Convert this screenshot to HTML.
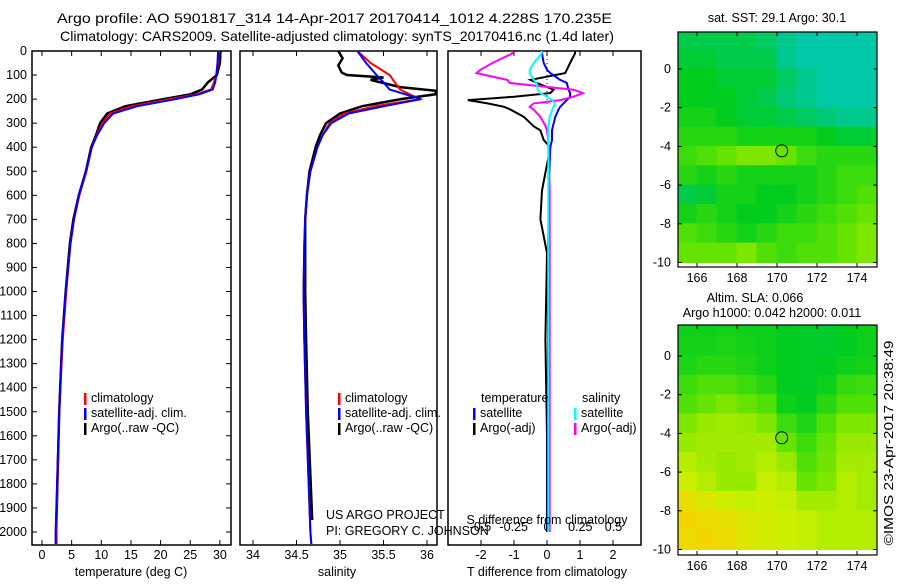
<!DOCTYPE html>
<html><head><meta charset="utf-8"><style>
body{margin:0;background:#fff;font-family:"Liberation Sans",sans-serif}
svg text{font-family:"Liberation Sans",sans-serif;font-size:12.5px;fill:#000}
</style></head><body>
<svg id="c" width="900" height="580" xmlns="http://www.w3.org/2000/svg">
<text x="57" y="23" textLength="555" lengthAdjust="spacingAndGlyphs" style="font-size:14px">Argo profile: AO 5901817_314 14-Apr-2017 20170414_1012 4.228S 170.235E</text>
<text x="60" y="41" textLength="554" lengthAdjust="spacingAndGlyphs" style="font-size:14px">Climatology: CARS2009. Satellite-adjusted climatology: synTS_20170416.nc (1.4d later)</text>
<text x="893" y="443" text-anchor="middle" textLength="205" lengthAdjust="spacingAndGlyphs" transform="rotate(-90 893 443)">©IMOS 23-Apr-2017 20:38:49</text>
</svg>
<script>
// ---- data ----
const depths=[0,50,100,130,160,180,200,230,260,300,350,400,500,600,700,800,1000,1200,1500,2000,2050];
const tempClim=[29.8,29.7,29.4,29,28.5,26,21.5,15,11.5,10.2,9.2,8.4,7.5,6.3,5.4,4.8,4.1,3.5,2.9,2.4,2.35];
const tempSat=[29.7,29.6,29.4,29.2,28.8,26.5,22.5,16,12,10.5,9.3,8.4,7.4,6.2,5.4,4.8,4.0,3.4,2.9,2.3,2.3];
const tempArgo=[30.1,30,29.5,28,27,25,20.5,14,11,9.8,9.1,8.3,7.4,6.2,5.3,4.7,4.0,3.4,2.9,2.4,2.4];
const salClim=[35.2,35.35,35.57,35.63,35.69,35.8,35.92,35.4,35.05,34.88,34.8,34.74,34.66,34.62,34.6,34.59,34.58,34.59,34.61,34.66,34.67];
const salSat=[35.2,35.3,35.42,35.5,35.57,35.75,35.93,35.5,35.1,34.9,34.8,34.74,34.66,34.62,34.6,34.59,34.58,34.59,34.61,34.66,34.67];
const salArgoDepth=[0,30,60,90,100,110,120,150,165,180,200,230,260,300,350,400,500,600,700,800,1000,1200,1500,1950];
const salArgo=[34.98,35.03,34.98,35.02,35.08,35.5,35.35,35.69,36.1,36.1,35.7,35.25,35.0,34.84,34.77,34.72,34.65,34.62,34.6,34.6,34.6,34.61,34.63,34.68];
const dDepth=[0,10,50,78,92,120,133,161,175,190,204,218,232,244,274,313,330,370,400,580,700,840,1200,1600,2000];
const dTArgo=[0.85,0.85,0.7,0.6,0.55,-0.5,-0.3,0.2,0.1,-1.0,-2.4,-1.8,-1.3,-1.1,-0.7,-0.4,-0.2,-0.1,0.1,-0.15,-0.2,0,-0.05,0,0];
const dTSat=[-0.15,-0.15,-0.1,0,0.1,0.4,0.6,0.65,0.7,0.7,0.6,0.5,0.4,0.35,0.25,0.18,0.15,0.15,0.1,0.05,0.05,0.03,0.03,0.02,0.02];
const dSSat=[-0.04,-0.04,-0.1,-0.13,-0.13,-0.1,-0.08,-0.07,-0.05,0,0.04,0.06,0.05,0.04,0.02,0.01,0.01,0.01,0.01,0.01,0.01,0.01,0.01,0.01,0.01];
const dSArgo=[-0.26,-0.26,-0.41,-0.5,-0.53,-0.3,-0.28,0.2,0.27,0.2,0.1,-0.1,-0.13,-0.1,-0.05,-0.01,0,0.01,0.01,0.02,0.02,0.02,0.02,0.02,0.02];
const depthTicks=[0,100,200,300,400,500,600,700,800,900,1000,1100,1200,1300,1400,1500,1600,1700,1800,1900,2000];
const tempTicks=[0,5,10,15,20,25,30];
const salTicks=[34,34.5,35,35.5,36];
const dTTicks=[-2,-1,0,1,2];
const dSTicks=[-0.5,-0.25,0,0.25,0.5];
const lonTicks=[166,168,170,172,174];
const latTicks=[0,-2,-4,-6,-8,-10];
const sstGrid=[
[0.25,0.25,0.25,0.25,0.2,0.1,0.05,0.05,0.05,0.05],
[0.3,0.3,0.25,0.25,0.25,0.1,0.05,0.05,0.05,0.05],
[0.35,0.35,0.3,0.3,0.3,0.2,0.1,0.05,0.05,0.05],
[0.35,0.35,0.35,0.3,0.25,0.15,0.1,0.05,0.05,0.05],
[0.4,0.4,0.35,0.3,0.3,0.25,0.2,0.15,0.1,0.1],
[0.45,0.45,0.45,0.4,0.4,0.4,0.4,0.35,0.3,0.3],
[0.5,0.55,0.6,0.65,0.65,0.6,0.5,0.45,0.45,0.45],
[0.45,0.4,0.45,0.4,0.4,0.4,0.4,0.45,0.5,0.5],
[0.25,0.3,0.4,0.4,0.35,0.35,0.4,0.45,0.5,0.55],
[0.4,0.45,0.4,0.35,0.35,0.4,0.45,0.5,0.55,0.6],
[0.55,0.5,0.45,0.4,0.45,0.5,0.5,0.55,0.6,0.65],
[0.6,0.6,0.6,0.65,0.55,0.5,0.55,0.55,0.6,0.65]];
const slaGrid=[
[0.38,0.38,0.4,0.38,0.38,0.35,0.33,0.32,0.35,0.38],
[0.4,0.4,0.42,0.4,0.38,0.35,0.33,0.32,0.35,0.38],
[0.42,0.45,0.45,0.42,0.38,0.35,0.33,0.35,0.38,0.4],
[0.5,0.55,0.55,0.5,0.45,0.35,0.33,0.38,0.48,0.5],
[0.55,0.6,0.65,0.6,0.55,0.38,0.35,0.45,0.55,0.55],
[0.65,0.7,0.72,0.7,0.65,0.5,0.42,0.55,0.65,0.65],
[0.7,0.72,0.72,0.72,0.72,0.6,0.5,0.6,0.7,0.7],
[0.75,0.72,0.7,0.72,0.75,0.7,0.55,0.62,0.72,0.72],
[0.8,0.75,0.7,0.7,0.78,0.75,0.6,0.65,0.75,0.72],
[0.9,0.85,0.8,0.78,0.8,0.78,0.72,0.72,0.75,0.72],
[0.95,0.92,0.9,0.85,0.82,0.8,0.78,0.75,0.75,0.75],
[0.92,0.95,0.92,0.85,0.82,0.8,0.78,0.75,0.75,0.75]];
const argoLon=170.235, argoLat=-4.228;

const svg=document.getElementById('c');
const NS='http://www.w3.org/2000/svg';
function mk(tag,attrs,parent){const e=document.createElementNS(NS,tag);for(const k in attrs)e.setAttribute(k,attrs[k]);(parent||svg).appendChild(e);return e;}
function txt(x,y,s,anchor){const t=mk('text',{x:x,y:y,'text-anchor':anchor||'start'});t.textContent=s;return t;}

const yD=d=>51+d*0.2405;
const PB=545;
function panel(x0,x1,name){const r=mk('rect',{x:x0,y:51,width:x1-x0,height:PB-51,fill:'none',stroke:'#000','stroke-width':1.5});

}
function line(xs,ys,fx,color,name,w){const pts=xs.map((v,i)=>fx(v).toFixed(1)+','+yD(ys[i]).toFixed(1)).join(' ');
const p=mk('polyline',{points:pts,fill:'none',stroke:color,'stroke-width':w||2});

}
function xticks(ticks,fx,fmt,y,name){ticks.forEach(t=>{const x=fx(t);mk('line',{x1:x,y1:PB,x2:x,y2:PB-5,stroke:'#000'});mk('line',{x1:x,y1:51,x2:x,y2:56,stroke:'#000'});
const l=txt(x,y,fmt(t),'middle');

});}

// panel 1 temperature
const xT=v=>42+v*5.93;
panel(32,231,'temperature-panel');
depthTicks.forEach(d=>{const y=yD(d);mk('line',{x1:32,y1:y,x2:37,y2:y,stroke:'#000'});mk('line',{x1:231,y1:y,x2:226,y2:y,stroke:'#000'});
const l=txt(27,y+4,String(d),'end');

});
xticks(tempTicks,xT,String,559,'temperature-tick-label');
line(tempArgo,depths,xT,'#000','temperature-argo-line',2.5);
line(tempClim,depths,xT,'#f00','temperature-climatology-line');
line(tempSat,depths,xT,'#00f','temperature-satellite-line');
let l=txt(131,576,'temperature (deg C)','middle');

function legend(x,y,items,name){items.forEach((it,i)=>{mk('rect',{x:x,y:y+i*15-9,width:2.5,height:12,fill:it[1]});
const t=txt(x+7,y+i*15,it[0]);

});}
legend(84,402,[['climatology','#f00'],['satellite-adj. clim.','#00f'],['Argo(..raw -QC)','#000']],'temperature-legend-entry');

// panel 2 salinity
const xS=v=>253+(v-34)*87;
panel(240,437,'salinity-panel');
xticks(salTicks,xS,String,559,'salinity-tick-label');
line(salArgo,salArgoDepth,xS,'#000','salinity-argo-line',2.5);
line(salClim,depths,xS,'#f00','salinity-climatology-line');
line(salSat,depths,xS,'#00f','salinity-satellite-line');
l=txt(337,576,'salinity','middle');
legend(338,402,[['climatology','#f00'],['satellite-adj. clim.','#00f'],['Argo(..raw -QC)','#000']],'salinity-legend-entry');
l=txt(326,519,'US ARGO PROJECT');
l=txt(326,535,'PI: GREGORY C. JOHNSON');

// panel 3 differences
const xDT=v=>547+v*33, xDS=v=>547+v*133;
panel(448,641,'difference-panel');
xticks(dTTicks,xDT,String,559,'t-difference-tick-label');
dSTicks.forEach(t=>{const x=xDS(t);const q=txt(x,531,String(t),'middle');

});
mk('line',{x1:547,y1:51,x2:547,y2:yD(220),stroke:'#000','stroke-dasharray':'1,3'});
line(dTArgo,dDepth,xDT,'#000','t-difference-argo-line');
line(dTSat,dDepth,xDT,'#00f','t-difference-satellite-line');
line(dSArgo,dDepth,xDS,'#f0f','s-difference-argo-line');
line(dSSat,dDepth,xDS,'#0ff','s-difference-satellite-line');
l=txt(547,524,'S difference from climatology','middle');
l=txt(547,576,'T difference from climatology','middle');
l=txt(481,402,'temperature');
l=txt(582,402,'salinity');
legend(473,417,[['satellite','#00f'],['Argo(-adj)','#000']],'t-difference-legend-entry');
legend(574,417,[['satellite','#0ff'],['Argo(-adj)','#f0f']],'s-difference-legend-entry');

// maps
function cmap(v){const stops=[[0,[0,200,190]],[0.35,[0,205,30]],[0.6,[100,228,0]],[0.8,[205,240,0]],[1,[255,205,0]]];
for(let i=1;i<stops.length;i++){if(v<=stops[i][0]){const a=stops[i-1],b=stops[i],f=(v-a[0])/(b[0]-a[0]);
return 'rgb('+a[1].map((c,k)=>Math.round(c+(b[1][k]-c)*f)).join(',')+')';}}return 'rgb(255,205,0)';}
function map(grid,x0,y0,x1,y1,lat0Y,name,cellName){
const fx=lon=>697+(lon-166)*20, fy=lat=>lat0Y-lat*19.35;
const g=mk('g',{});


const cp=mk('clipPath',{id:name+'-clip'},g);mk('rect',{x:x0,y:y0,width:x1-x0,height:y1-y0},cp);
const inner=mk('g',{'clip-path':'url(#'+name+'-clip)'},g);
grid.forEach((row,r)=>row.forEach((v,c)=>{const lat=2-r,lon=165+c;
const cell=mk('rect',{x:fx(lon)-0.5,y:fy(lat)-0.5,width:21,height:20.4,fill:cmap(v)},inner);

}));
mk('rect',{x:x0,y:y0,width:x1-x0,height:y1-y0,fill:'none',stroke:'#000','stroke-width':1.2},g);
lonTicks.forEach(t=>{const x=fx(t);mk('line',{x1:x,y1:y1,x2:x,y2:y1-4,stroke:'#000'},g);mk('line',{x1:x,y1:y0,x2:x,y2:y0+4,stroke:'#000'},g);
const q=txt(x,y1+15,String(t),'middle');});
latTicks.forEach(t=>{const y=fy(t);mk('line',{x1:x0,y1:y,x2:x0+4,y2:y,stroke:'#000'},g);mk('line',{x1:x1,y1:y,x2:x1-4,y2:y,stroke:'#000'},g);
const q=txt(x0-7,y+4,String(t),'end');});
const m=mk('circle',{cx:fx(argoLon),cy:fy(argoLat),r:6,fill:'none',stroke:'#000','stroke-width':1},g);


}
map(sstGrid,678,32,877,267,69,'sst-map','sst-cell');
map(slaGrid,678,325,877,555,356,'sla-map','sla-cell');
l=txt(777,22,'sat. SST: 29.1 Argo: 30.1','middle');
l=txt(755,302,'Altim. SLA: 0.066','middle');
l=txt(772,317,'Argo h1000: 0.042 h2000: 0.011','middle');
</script>
</body></html>
